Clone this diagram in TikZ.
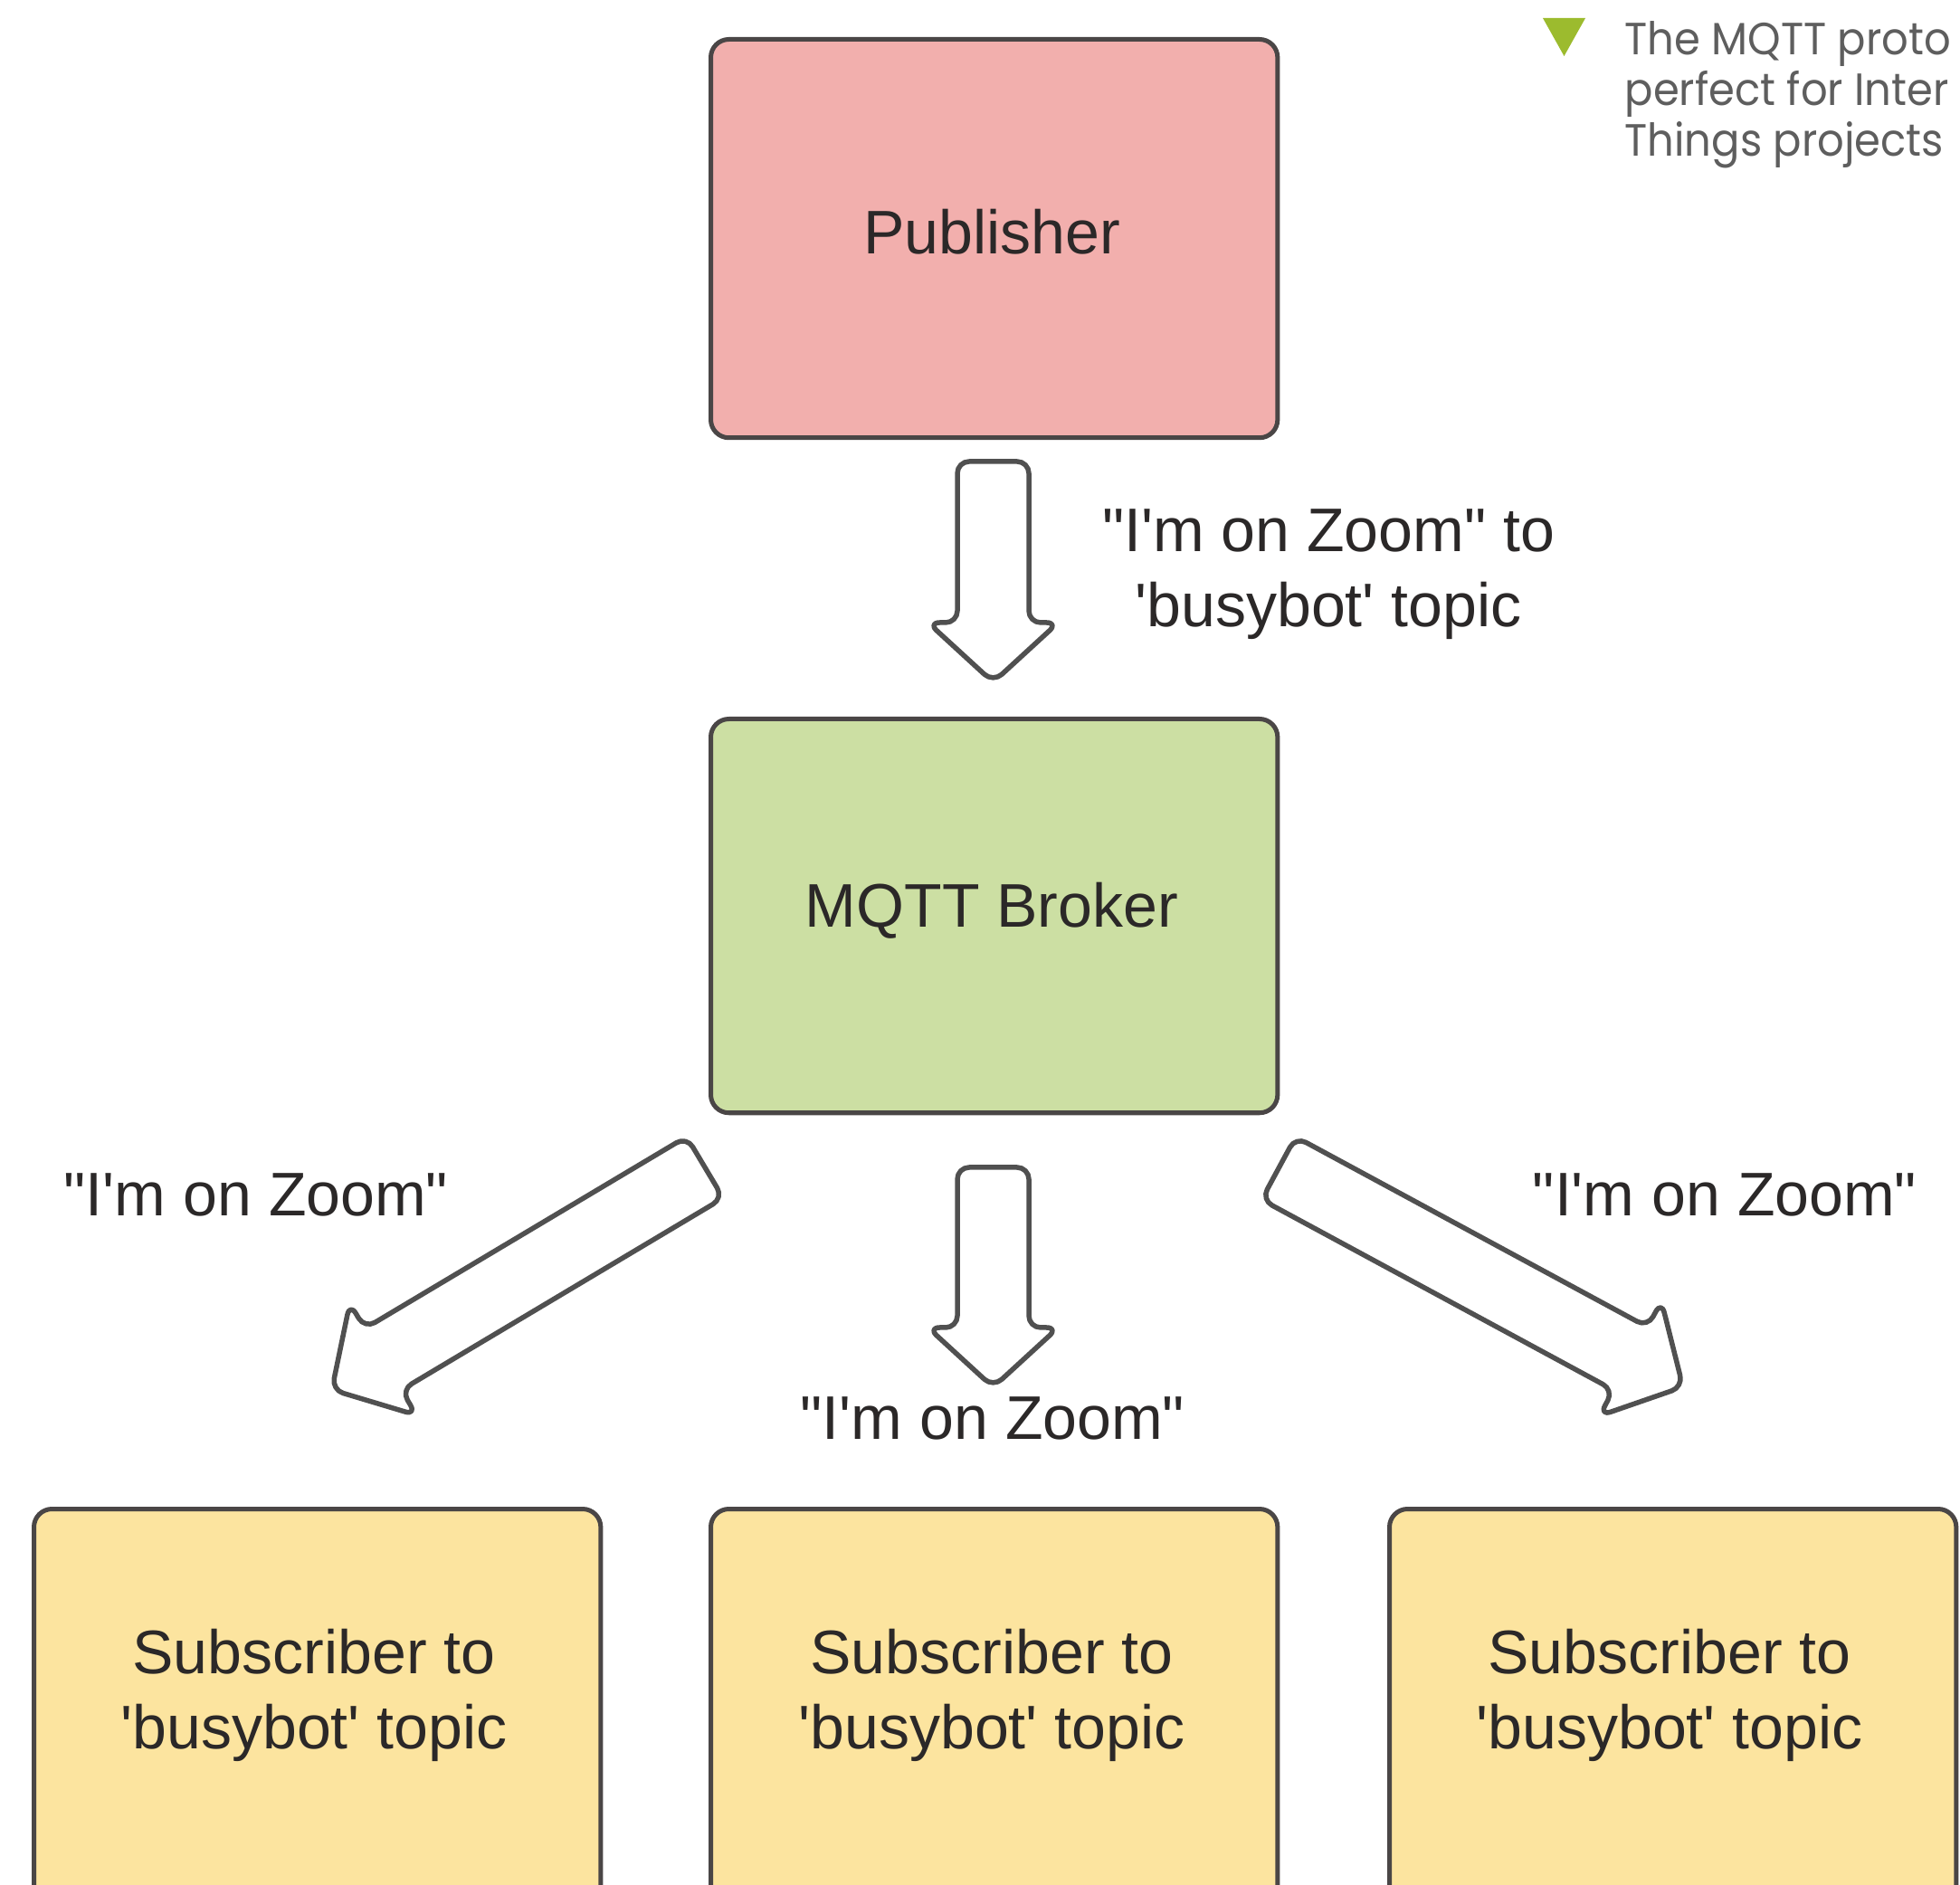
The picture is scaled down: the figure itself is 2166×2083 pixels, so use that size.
\documentclass[tikz,border=0pt]{standalone}
\usepackage{fontspec}
\newfontfamily\labfont{Liberation Sans}
\newfontfamily\capfont{Poppins}[FakeStretch=0.93]
\definecolor{boxline}{HTML}{4A4646}
\definecolor{arrline}{HTML}{505050}
\definecolor{pubfill}{HTML}{F2AFAD}
\definecolor{brkfill}{HTML}{CCDFA3}
\definecolor{subfill}{HTML}{FCE49F}
\definecolor{txtcol}{HTML}{2B2828}
\definecolor{capcol}{HTML}{5E5E5E}
\definecolor{trigreen}{HTML}{9CBB2E}
\newcommand{\blockarr}[3]{%
  \draw[barrow, shift={(#1)}, rotate=#2]
    (0,39.5) -- (#3-66,39.5) -- (#3-66,72) -- (#3,0) -- (#3-66,-72)
    -- (#3-66,-39.5) -- (0,-39.5) -- cycle;}
\begin{document}
\begin{tikzpicture}[x=0.01cm,y=-0.01cm,
  box/.style={draw=boxline, line width=0.05cm, rounded corners=0.2cm,
    inner sep=0pt, anchor=north west, minimum width=6.26cm},
  lab/.style={font=\labfont\fontsize{19.35}{23.6}\selectfont, text=txtcol,
    align=center, inner sep=0pt},
  captext/.style={font=\capfont\fontsize{14.2}{16}\selectfont, text=capcol,
    anchor=base west, inner sep=0pt},
  barrow/.style={draw=arrline, fill=white, line width=0.055cm,
    rounded corners=0.13cm, line join=round}]
\useasboundingbox (0,0) rectangle (2166,2083);
\fill[white] (0,0) rectangle (2166,2083);
\clip (0,0) rectangle (2166,2083);

% caption
\fill[trigreen] (1705,20) -- (1752,20) -- (1728.5,62) -- cycle;
\node[captext] (cap1) at (1795,61) {The MQTT proto};
\node[captext] (cap2) at (1795,117) {perfect for Inter};
\node[captext] (cap3) at (1795,173) {Things projects};

% boxes
\node[box, fill=pubfill, minimum height=4.40cm] (pub) at (783,41) {};
\node[box, fill=brkfill, minimum height=4.35cm] (brk) at (783,792) {};
\node[box, fill=subfill, minimum height=5.2cm] (sub1) at (35,1665) {};
\node[box, fill=subfill, minimum height=5.2cm] (sub2) at (783,1665) {};
\node[box, fill=subfill, minimum height=5.2cm] (sub3) at (1533,1665) {};
\node[lab] (pubt) at (1096,256) {Publisher};
\node[lab] (brkt) at (1096,1006) {MQTT Broker};
\node[lab] (sub1t) at (347,1873) {Subscriber to\\\textquotesingle busybot\textquotesingle{} topic};
\node[lab] (sub2t) at (1096,1873) {Subscriber to\\\textquotesingle busybot\textquotesingle{} topic};
\node[lab] (sub3t) at (1845,1873) {Subscriber to\\\textquotesingle busybot\textquotesingle{} topic};

% arrows
\coordinate (a1) at (1097.5,510);
\coordinate (a2) at (1097.5,1290);
\coordinate (a3) at (779,1290);
\coordinate (a4) at (1413,1291);
\blockarr{a1}{-90}{244}
\blockarr{a2}{-90}{243}
\blockarr{a3}{210.8}{480}
\blockarr{a4}{-28.4}{508}

% labels
\node[lab] (l1) at (1468,635) {"I\textquotesingle m on Zoom" to\\\textquotesingle busybot\textquotesingle{} topic};
\node[lab] (l2) at (283,1320) {"I\textquotesingle m on Zoom"};
\node[lab] (l3) at (1906,1320) {"I\textquotesingle m on Zoom"};
\node[lab] (l4) at (1097,1567) {"I\textquotesingle m on Zoom"};
\end{tikzpicture}
\end{document}
